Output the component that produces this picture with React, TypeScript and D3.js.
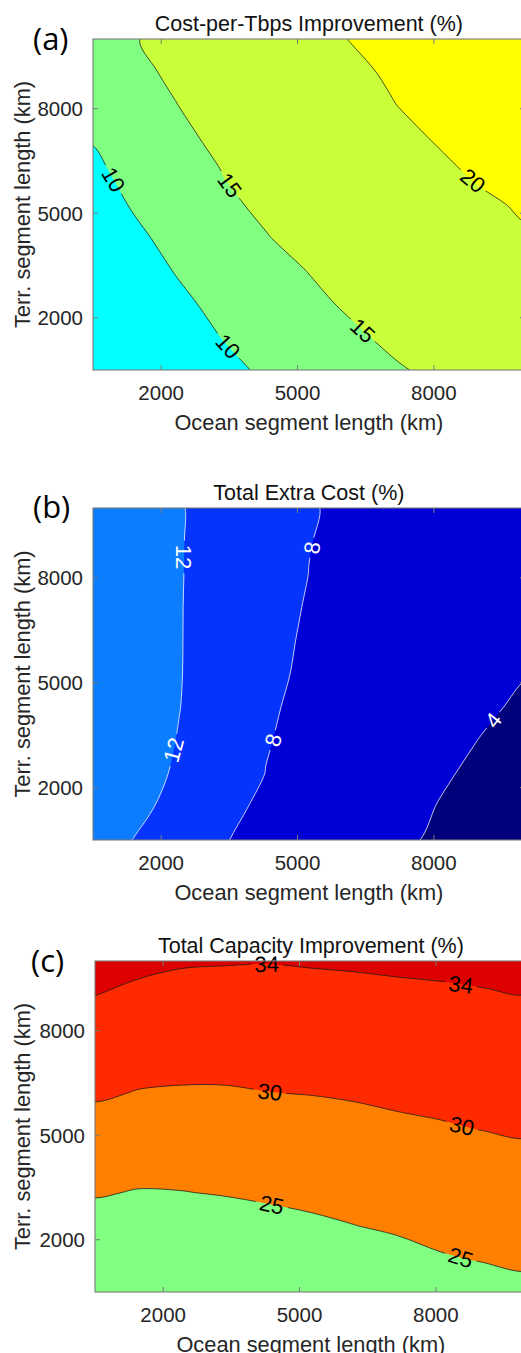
import React from "react";
import * as d3 from "d3";

// grid sample positions (km) – same for all three panels
const OCEAN_KM = [500, 1450, 2400, 3350, 4300, 5250, 6200, 7150, 8100, 9050, 10000];
const TERR_KM = [500, 1450, 2400, 3350, 4300, 5250, 6200, 7150, 8100, 9050, 10000];
const TICKS_KM = [2000, 5000, 8000];

// rows go from TERR_KM[0] (bottom) to TERR_KM[10] (top), columns follow OCEAN_KM
const costPerTbps = [
  [4.4, 6.0, 7.5, 9.1, 10.5, 11.9, 13.2, 14.6, 15.8, 16.9, 18.0],
  [5.1, 6.7, 8.4, 10.1, 11.5, 13.0, 14.4, 15.85, 16.6, 17.5, 18.5],
  [5.9, 7.6, 9.3, 11.0, 12.5, 14.1, 15.6, 16.2, 17.1, 18.0, 18.9],
  [6.7, 8.5, 10.3, 12.0, 13.6, 15.1, 15.9, 16.8, 17.6, 18.5, 19.3],
  [7.6, 9.4, 11.2, 13.0, 14.9, 15.7, 16.5, 17.3, 18.1, 18.9, 19.7],
  [8.4, 10.4, 12.2, 14.6, 15.4, 16.2, 17.1, 17.9, 18.7, 19.6, 20.3],
  [9.3, 11.2, 13.2, 15.05, 15.9, 16.8, 17.7, 18.6, 19.5, 20.4, 21.1],
  [10.2, 12.1, 14.2, 15.9, 16.5, 17.4, 18.3, 19.3, 20.2, 21.0, 21.7],
  [11.0, 13.1, 15.05, 16.1, 17.0, 18.0, 19.0, 19.97, 20.8, 21.6, 22.4],
  [11.9, 14.4, 15.6, 16.6, 17.5, 18.5, 19.5, 20.4, 21.3, 22.1, 22.9],
  [12.6, 14.9, 16.0, 17.0, 18.0, 19.1, 20.1, 20.9, 21.7, 22.6, 23.4],
];
const costLevels = [10, 15, 20];
const costColors = ["#00FFFF", "#80FF80", "#C8FF38", "#FFFF00"];
const costLabels = [
  { level: 10, by: "x", at: 950 },
  { level: 10, by: "x", at: 3470 },
  { level: 15, by: "x", at: 3510 },
  { level: 15, by: "x", at: 6440 },
  { level: 20, by: "x", at: 8860 },
];

const extraCost = [
  [13.4, 11.84, 10.1, 8.15, 7.23, 6.3, 5.4, 4.47, 3.65, 3.0, 2.3],
  [14.3, 12.72, 11.0, 8.54, 7.63, 6.7, 5.8, 4.85, 3.93, 3.2, 2.6],
  [14.8, 13.2, 11.58, 9.73, 7.96, 7.05, 6.1, 5.2, 4.3, 3.54, 2.85],
  [15.0, 13.44, 11.86, 10.05, 8.14, 7.29, 6.45, 5.6, 4.74, 3.92, 3.2],
  [15.2, 13.6, 12.05, 10.33, 8.3, 7.45, 6.74, 5.95, 5.15, 4.37, 3.64],
  [15.2, 13.7, 12.12, 10.49, 8.75, 7.42, 6.97, 6.25, 5.52, 4.8, 4.09],
  [15.25, 13.7, 12.13, 10.57, 9.05, 7.53, 7.13, 6.47, 5.8, 5.13, 4.47],
  [15.26, 13.7, 12.13, 10.65, 9.2, 7.76, 7.28, 6.67, 6.04, 5.43, 4.81],
  [15.27, 13.71, 12.15, 10.72, 9.35, 7.98, 7.42, 6.85, 6.26, 5.69, 5.11],
  [15.29, 13.73, 12.16, 10.78, 9.46, 8.05, 7.52, 6.98, 6.43, 5.89, 5.36],
  [15.31, 13.75, 12.18, 10.85, 9.59, 8.13, 7.62, 7.12, 6.6, 6.09, 5.59],
];
const extraLevels = [4, 8, 12];
const extraColors = ["#00007A", "#0000D6", "#0434FE", "#0B7DFE"];
const extraLabels = [
  { level: 12, by: "y", at: 8600 },
  { level: 12, by: "y", at: 3080 },
  { level: 8, by: "y", at: 8860 },
  { level: 8, by: "y", at: 3360 },
  { level: 4, by: "y", at: 3930 },
];

const capacityGain = [
  [19.5, 19.0, 19.1, 19.4, 19.9, 20.5, 21.1, 21.9, 22.8, 23.4, 24.0],
  [21.5, 20.9, 21.0, 21.3, 21.9, 22.4, 23.0, 23.8, 24.7, 25.2, 25.6],
  [23.4, 22.9, 23.0, 23.3, 23.8, 24.4, 24.95, 25.5, 26.1, 26.5, 26.8],
  [25.3, 24.8, 24.9, 25.2, 25.6, 25.9, 26.3, 26.8, 27.3, 27.7, 28.1],
  [27.1, 26.5, 26.5, 26.7, 27.0, 27.3, 27.7, 28.2, 28.6, 29.0, 29.3],
  [28.8, 28.2, 28.1, 28.2, 28.5, 28.7, 29.1, 29.5, 29.8, 30.15, 30.4],
  [30.4, 29.85, 29.7, 29.7, 29.94, 30.08, 30.3, 30.6, 30.8, 31.1, 31.3],
  [31.6, 31.1, 30.9, 30.9, 31.0, 31.1, 31.3, 31.5, 31.8, 32.0, 32.2],
  [32.8, 32.3, 32.0, 32.0, 32.0, 32.2, 32.3, 32.5, 32.7, 32.9, 33.1],
  [34.06, 33.5, 33.15, 33.07, 33.06, 33.2, 33.3, 33.5, 33.6, 33.8, 33.99],
  [35.1, 34.6, 34.25, 34.16, 34.09, 34.22, 34.34, 34.47, 34.63, 34.84, 35.0],
];
const capacityLevels = [25, 30, 34];
const capacityColors = ["#80FF80", "#FF7F00", "#FF2A00", "#DD0000"];
const capacityLabels = [
  { level: 34, by: "x", at: 4280 },
  { level: 34, by: "x", at: 8550 },
  { level: 30, by: "x", at: 4350 },
  { level: 30, by: "x", at: 8575 },
  { level: 25, by: "x", at: 4390 },
  { level: 25, by: "x", at: 8550 },
];

const FONT = "'Liberation Sans', Arial, Helvetica, sans-serif";
const PX_PER_KM = 0.04545;
const LABEL_SIZE = 22;

function ContourPanel(props) {
  const {
    id, letter, letterX, letterY, title, grid, levels, colors,
    lineColor, labelColor, labels, left, top, height,
  } = props;
  const n = OCEAN_KM.length;
  const m = TERR_KM.length;
  const width = (OCEAN_KM[n - 1] - OCEAN_KM[0]) * PX_PER_KM;

  const x = d3.scaleLinear().domain([OCEAN_KM[0], OCEAN_KM[n - 1]]).range([left, left + width]);
  const y = d3.scaleLinear().domain([TERR_KM[0], TERR_KM[m - 1]]).range([top + height, top]);
  // contour grid coords -> km (sample k sits at k + 0.5)
  const gx = d3.scaleLinear().domain([0.5, n - 0.5]).range([OCEAN_KM[0], OCEAN_KM[n - 1]]);
  const gy = d3.scaleLinear().domain([0.5, m - 0.5]).range([TERR_KM[m - 1], TERR_KM[0]]);

  const values = grid.slice().reverse().flat();
  const contours = d3.contours().size([n, m]).thresholds(levels)(values);

  const toPx = ([cx, cy]) => [x(gx(cx)), y(gy(cy))];
  // smooth the marching-squares rings a bit, like MATLAB's drawn contours
  const ringLine = d3.line().curve(d3.curveCatmullRomClosed.alpha(0.5));
  const contourPath = (c) =>
    c.coordinates
      .map((poly) => poly.map((ring) => ringLine(ring.slice(0, -1).map(toPx))).join(""))
      .join("");

  const inside = (p) =>
    p[0] > left + 1 && p[0] < left + width - 1 && p[1] > top + 1 && p[1] < top + height - 1;

  // find label anchor + angle on a contour
  const placed = labels.map((spec) => {
    const c = contours.find((d) => d.value === spec.level);
    if (!c) return null;
    const k = spec.by === "x" ? 0 : 1;
    const target = spec.by === "x" ? x(spec.at) : y(spec.at);
    for (const poly of c.coordinates) {
      for (const ring of poly) {
        const pts = ring.map(toPx);
        for (let i = 0; i < pts.length - 1; i++) {
          const a = pts[i];
          const b = pts[i + 1];
          if (a[k] === b[k] || (a[k] - target) * (b[k] - target) > 0) continue;
          const t = (target - a[k]) / (b[k] - a[k]);
          const p = [a[0] + t * (b[0] - a[0]), a[1] + t * (b[1] - a[1])];
          if (!inside(p)) continue;
          const a0 = pts[Math.max(0, i - 1)];
          const b0 = pts[Math.min(pts.length - 1, i + 2)];
          const u = inside(a0) ? a0 : a;
          const v = inside(b0) ? b0 : b;
          let ang = (Math.atan2(v[1] - u[1], v[0] - u[0]) * 180) / Math.PI;
          if (ang > 90) ang -= 180;
          if (ang <= -90) ang += 180;
          if (Math.abs(ang) > 86) ang = 90;
          return { x: p[0], y: p[1], angle: ang, text: String(spec.level) };
        }
      }
    }
    return null;
  }).filter(Boolean);

  const tickLen = 5;
  const axisColor = "#7a7a7a";

  return (
    <g>
      <defs>
        <clipPath id={`clip-${id}`}>
          <rect x={left} y={top} width={width} height={height} />
        </clipPath>
        <mask id={`mask-${id}`} maskUnits="userSpaceOnUse" x={0} y={0} width={521} height={1353}>
          <rect x={0} y={0} width={521} height={1353} fill="white" />
          {placed.map((p, i) => {
            const w = p.text.length * 0.556 * LABEL_SIZE + 8;
            return (
              <rect
                key={i}
                x={-w / 2}
                y={-9}
                width={w}
                height={18}
                fill="black"
                transform={`translate(${p.x},${p.y}) rotate(${p.angle})`}
              />
            );
          })}
        </mask>
      </defs>

      <g clipPath={`url(#clip-${id})`}>
        <rect x={left} y={top} width={width} height={height} fill={colors[0]} />
        {contours.map((c, i) => (
          <path key={`f${i}`} d={contourPath(c)} fill={colors[i + 1]} fillRule="evenodd" stroke="none" />
        ))}
        <g mask={`url(#mask-${id})`}>
          {contours.map((c, i) => (
            <path
              key={`l${i}`}
              d={contourPath(c)}
              fill="none"
              stroke={lineColor}
              strokeWidth={0.9}
              strokeOpacity={0.85}
            />
          ))}
        </g>
      </g>

      {placed.map((p, i) => (
        <text
          key={`t${i}`}
          transform={`translate(${p.x},${p.y}) rotate(${p.angle})`}
          textAnchor="middle"
          dy="0.36em"
          fontFamily={FONT}
          fontSize={LABEL_SIZE}
          fill={labelColor}
        >
          {p.text}
        </text>
      ))}

      {/* axes box + inward ticks */}
      <rect x={left} y={top} width={width} height={height} fill="none" stroke={axisColor} strokeWidth={1.1} />
      {TICKS_KM.map((t) => (
        <g key={`xt${t}`} stroke={axisColor} strokeWidth={1}>
          <line x1={x(t)} x2={x(t)} y1={top + height} y2={top + height - tickLen} />
          <line x1={x(t)} x2={x(t)} y1={top} y2={top + tickLen} />
        </g>
      ))}
      {TICKS_KM.map((t) => (
        <g key={`yt${t}`} stroke={axisColor} strokeWidth={1}>
          <line x1={left} x2={left + tickLen} y1={y(t)} y2={y(t)} />
          <line x1={left + width} x2={left + width - tickLen} y1={y(t)} y2={y(t)} />
        </g>
      ))}

      <g fontFamily={FONT} fill="#262626">
        {TICKS_KM.map((t) => (
          <text key={`xl${t}`} x={x(t)} y={top + height + 23} dy="0.36em" textAnchor="middle" fontSize={20.5}>
            {t}
          </text>
        ))}
        {TICKS_KM.map((t) => (
          <text key={`yl${t}`} x={left - 10} y={y(t)} dy="0.36em" textAnchor="end" fontSize={20.5}>
            {t}
          </text>
        ))}
        <text x={left + width / 2} y={top + height + 52} dy="0.36em" textAnchor="middle" fontSize={21.8}>
          Ocean segment length (km)
        </text>
        <text
          transform={`translate(22,${top + height / 2}) rotate(-90)`}
          dy="0.36em"
          textAnchor="middle"
          fontSize={21.8}
        >
          Terr. segment length (km)
        </text>
      </g>
      <text x={left + width / 2} y={top - 16} dy="0.36em" textAnchor="middle" fontFamily={FONT} fontSize={21.5} fill="#111">
        {title}
      </text>
      <text x={letterX} y={letterY} fontFamily="'Open Sans', 'Noto Sans', sans-serif" fontSize={31} fill="#000">
        {letter}
      </text>
    </g>
  );
}

export default function App() {
  return (
    <svg
      width={521}
      height={1353}
      viewBox="0 0 521 1353"
      style={{ position: "absolute", left: 0, top: 0, background: "#fff", display: "block" }}
    >
      <rect x={0} y={0} width={521} height={1353} fill="#fff" />
      <ContourPanel
        id="a"
        letter="(a)"
        letterX={33}
        letterY={50}
        title="Cost-per-Tbps Improvement (%)"
        grid={costPerTbps}
        levels={costLevels}
        colors={costColors}
        lineColor="#1a1a1a"
        labelColor="#000"
        labels={costLabels}
        left={93}
        top={39}
        height={331}
      />
      <ContourPanel
        id="b"
        letter="(b)"
        letterX={33}
        letterY={518}
        title="Total Extra Cost (%)"
        grid={extraCost}
        levels={extraLevels}
        colors={extraColors}
        lineColor="#ffffff"
        labelColor="#fff"
        labels={extraLabels}
        left={93}
        top={508}
        height={332}
      />
      <ContourPanel
        id="c"
        letter="(c)"
        letterX={31}
        letterY={972}
        title="Total Capacity Improvement (%)"
        grid={capacityGain}
        levels={capacityLevels}
        colors={capacityColors}
        lineColor="#1a1a1a"
        labelColor="#000"
        labels={capacityLabels}
        left={95}
        top={961}
        height={331}
      />
    </svg>
  );
}
